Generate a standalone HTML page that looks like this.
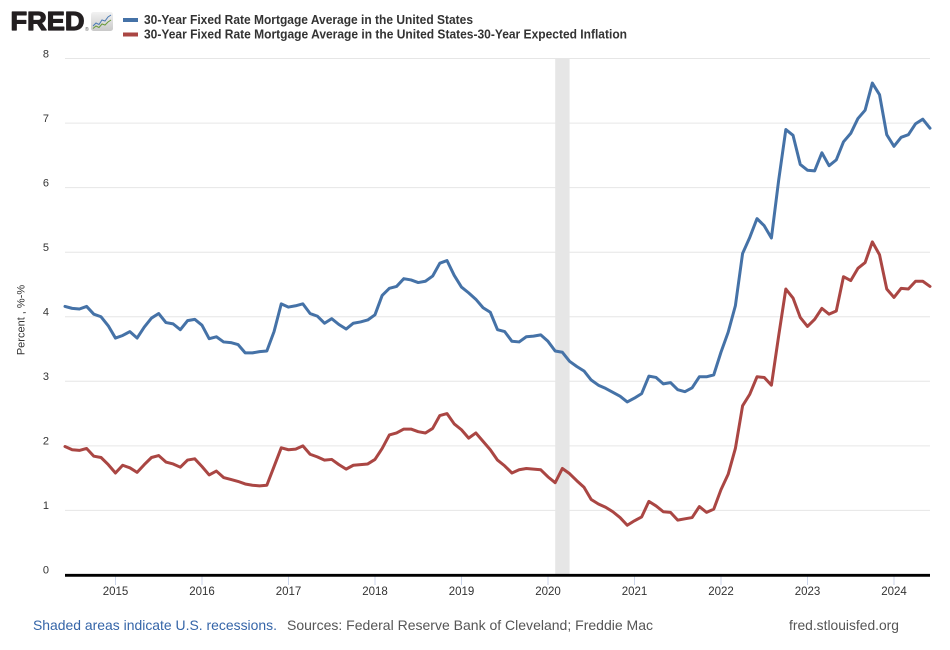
<!DOCTYPE html>
<html>
<head>
<meta charset="utf-8">
<style>
  html, body { margin: 0; padding: 0; background: #ffffff; }
  svg { display: block; }
  text { font-family: "Liberation Sans", Arial, sans-serif; }
</style>
</head>
<body>
<svg width="950" height="650" viewBox="0 0 950 650" xmlns="http://www.w3.org/2000/svg">
  <defs>
    <linearGradient id="ig" x1="0" y1="0" x2="0" y2="1">
      <stop offset="0" stop-color="#f2f2f2"/>
      <stop offset="1" stop-color="#c9c9c9"/>
    </linearGradient>
  </defs>
  <rect x="0" y="0" width="950" height="650" fill="#ffffff"/>

  <!-- FRED logo -->
  <text x="10.5" y="30" font-size="26" font-weight="bold" fill="#231f20" stroke="#231f20" stroke-width="1.2" stroke-linejoin="round" textLength="74" lengthAdjust="spacingAndGlyphs">FRED</text>
  <text x="85" y="31" font-size="5" fill="#555">®</text>
  <rect x="91" y="12" width="22" height="19" rx="2.5" fill="url(#ig)"/>
  <polyline points="93,26 96,23 99,24.5 102,20 105,21 108,17 111,15" fill="none" stroke="#4a7ab5" stroke-width="1"/>
  <polyline points="93,28.5 96,26 99,27.5 102,24 105,25 108,22 111,20" fill="none" stroke="#6a9a3a" stroke-width="1"/>

  <!-- Legend -->
  <rect x="123" y="18" width="15" height="4" fill="#4572a7"/>
  <rect x="123" y="32.5" width="15" height="4" fill="#aa4643"/>
  <text x="144" y="24" font-size="12.5" font-weight="bold" fill="#333" textLength="329" lengthAdjust="spacingAndGlyphs">30-Year Fixed Rate Mortgage Average in the United States</text>
  <text x="144" y="38.5" font-size="12.5" font-weight="bold" fill="#333" textLength="483" lengthAdjust="spacingAndGlyphs">30-Year Fixed Rate Mortgage Average in the United States-30-Year Expected Inflation</text>

  <!-- Gridlines -->
  <g stroke="#e6e6e6" stroke-width="1">
    <line x1="65" x2="930" y1="58.5" y2="58.5"/>
    <line x1="65" x2="930" y1="123.1" y2="123.1"/>
    <line x1="65" x2="930" y1="187.6" y2="187.6"/>
    <line x1="65" x2="930" y1="252.2" y2="252.2"/>
    <line x1="65" x2="930" y1="316.8" y2="316.8"/>
    <line x1="65" x2="930" y1="381.3" y2="381.3"/>
    <line x1="65" x2="930" y1="445.9" y2="445.9"/>
    <line x1="65" x2="930" y1="510.4" y2="510.4"/>
  </g>

  <!-- Recession shading -->
  <rect x="555.2" y="58.5" width="14.4" height="516.5" fill="#e6e6e6"/>

  <!-- Y tick labels -->
  <g font-size="11" fill="#333" text-anchor="end">
    <text x="49" y="57.5">8</text>
    <text x="49" y="122">7</text>
    <text x="49" y="186.5">6</text>
    <text x="49" y="251">5</text>
    <text x="49" y="315.5">4</text>
    <text x="49" y="380">3</text>
    <text x="49" y="444.5">2</text>
    <text x="49" y="509">1</text>
    <text x="49" y="573.5">0</text>
  </g>

  <!-- Y axis title -->
  <text transform="translate(24.5,320) rotate(-90)" font-size="11" fill="#333" text-anchor="middle">Percent , %-%</text>

  <!-- X ticks -->
  <g stroke="#ccd6eb" stroke-width="1">
    <line x1="115.5" x2="115.5" y1="576" y2="585"/>
    <line x1="202" x2="202" y1="576" y2="585"/>
    <line x1="288.5" x2="288.5" y1="576" y2="585"/>
    <line x1="375" x2="375" y1="576" y2="585"/>
    <line x1="461.5" x2="461.5" y1="576" y2="585"/>
    <line x1="548" x2="548" y1="576" y2="585"/>
    <line x1="634.5" x2="634.5" y1="576" y2="585"/>
    <line x1="721" x2="721" y1="576" y2="585"/>
    <line x1="807.5" x2="807.5" y1="576" y2="585"/>
    <line x1="894" x2="894" y1="576" y2="585"/>
  </g>
  <g font-size="11.5" fill="#333" text-anchor="middle">
    <text x="115.5" y="595">2015</text>
    <text x="202" y="595">2016</text>
    <text x="288.5" y="595">2017</text>
    <text x="375" y="595">2018</text>
    <text x="461.5" y="595">2019</text>
    <text x="548" y="595">2020</text>
    <text x="634.5" y="595">2021</text>
    <text x="721" y="595">2022</text>
    <text x="807.5" y="595">2023</text>
    <text x="894" y="595">2024</text>
  </g>

  <!-- Series -->
  <g transform="matrix(7.2083 0 0 -64.56 65 575)">
    <polyline fill="none" stroke="#aa4643" stroke-width="3" stroke-linejoin="round" stroke-linecap="round" vector-effect="non-scaling-stroke"
      points="0,1.99 1,1.94 2,1.93 3,1.96 4,1.84 5,1.82 6,1.71 7,1.58 8,1.70 9,1.66 10,1.59 11,1.71 12,1.82 13,1.85 14,1.75 15,1.72 16,1.67 17,1.78 18,1.80 19,1.68 20,1.55 21,1.61 22,1.51 23,1.48 24,1.45 25,1.41 26,1.39 27,1.38 28,1.39 29,1.68 30,1.97 31,1.94 32,1.95 33,2.00 34,1.87 35,1.83 36,1.78 37,1.79 38,1.71 39,1.64 40,1.70 41,1.71 42,1.72 43,1.79 44,1.96 45,2.17 46,2.20 47,2.26 48,2.26 49,2.22 50,2.20 51,2.27 52,2.47 53,2.50 54,2.34 55,2.25 56,2.12 57,2.20 58,2.07 59,1.94 60,1.78 61,1.69 62,1.58 63,1.63 64,1.65 65,1.64 66,1.63 67,1.52 68,1.43 69,1.65 70,1.57 71,1.46 72,1.36 73,1.17 74,1.10 75,1.05 76,0.98 77,0.89 78,0.77 79,0.84 80,0.90 81,1.14 82,1.07 83,0.98 84,0.97 85,0.85 86,0.87 87,0.89 88,1.06 89,0.97 90,1.02 91,1.32 92,1.56 93,1.96 94,2.62 95,2.80 96,3.07 97,3.06 98,2.94 99,3.70 100,4.43 101,4.29 102,3.99 103,3.85 104,3.96 105,4.13 106,4.04 107,4.09 108,4.62 109,4.56 110,4.75 111,4.84 112,5.16 113,4.96 114,4.43 115,4.30 116,4.44 117,4.43 118,4.55 119,4.55 120,4.47"/>
    <polyline fill="none" stroke="#4572a7" stroke-width="3" stroke-linejoin="round" stroke-linecap="round" vector-effect="non-scaling-stroke"
      points="0,4.16 1,4.13 2,4.12 3,4.16 4,4.04 5,4.00 6,3.86 7,3.67 8,3.71 9,3.77 10,3.67 11,3.84 12,3.98 13,4.05 14,3.91 15,3.89 16,3.80 17,3.94 18,3.96 19,3.87 20,3.66 21,3.69 22,3.61 23,3.60 24,3.57 25,3.44 26,3.44 27,3.46 28,3.47 29,3.77 30,4.20 31,4.15 32,4.17 33,4.20 34,4.05 35,4.01 36,3.90 37,3.97 38,3.88 39,3.81 40,3.90 41,3.92 42,3.95 43,4.03 44,4.33 45,4.44 46,4.47 47,4.59 48,4.57 49,4.53 50,4.55 51,4.63 52,4.83 53,4.87 54,4.64 55,4.46 56,4.37 57,4.27 58,4.14 59,4.07 60,3.80 61,3.77 62,3.62 63,3.61 64,3.69 65,3.70 66,3.72 67,3.62 68,3.47 69,3.45 70,3.31 71,3.23 72,3.16 73,3.02 74,2.94 75,2.89 76,2.83 77,2.77 78,2.68 79,2.74 80,2.81 81,3.08 82,3.06 83,2.96 84,2.98 85,2.87 86,2.84 87,2.90 88,3.07 89,3.07 90,3.10 91,3.45 92,3.76 93,4.17 94,4.98 95,5.23 96,5.52 97,5.41 98,5.22 99,6.11 100,6.90 101,6.81 102,6.36 103,6.27 104,6.26 105,6.54 106,6.34 107,6.43 108,6.71 109,6.84 110,7.07 111,7.20 112,7.62 113,7.44 114,6.82 115,6.64 116,6.78 117,6.82 118,6.99 119,7.06 120,6.92"/>
  </g>

  <!-- X axis line -->
  <line x1="65" x2="930" y1="575.3" y2="575.3" stroke="#000" stroke-width="2.8"/>

  <!-- Footer -->
  <text x="33" y="630" font-size="14" fill="#3565a8" textLength="244" lengthAdjust="spacingAndGlyphs">Shaded areas indicate U.S. recessions.</text>
  <text x="287" y="630" font-size="14" fill="#555" textLength="366" lengthAdjust="spacingAndGlyphs">Sources: Federal Reserve Bank of Cleveland; Freddie Mac</text>
  <text x="789" y="630" font-size="14" fill="#555" textLength="110" lengthAdjust="spacingAndGlyphs">fred.stlouisfed.org</text>
</svg>
</body>
</html>
